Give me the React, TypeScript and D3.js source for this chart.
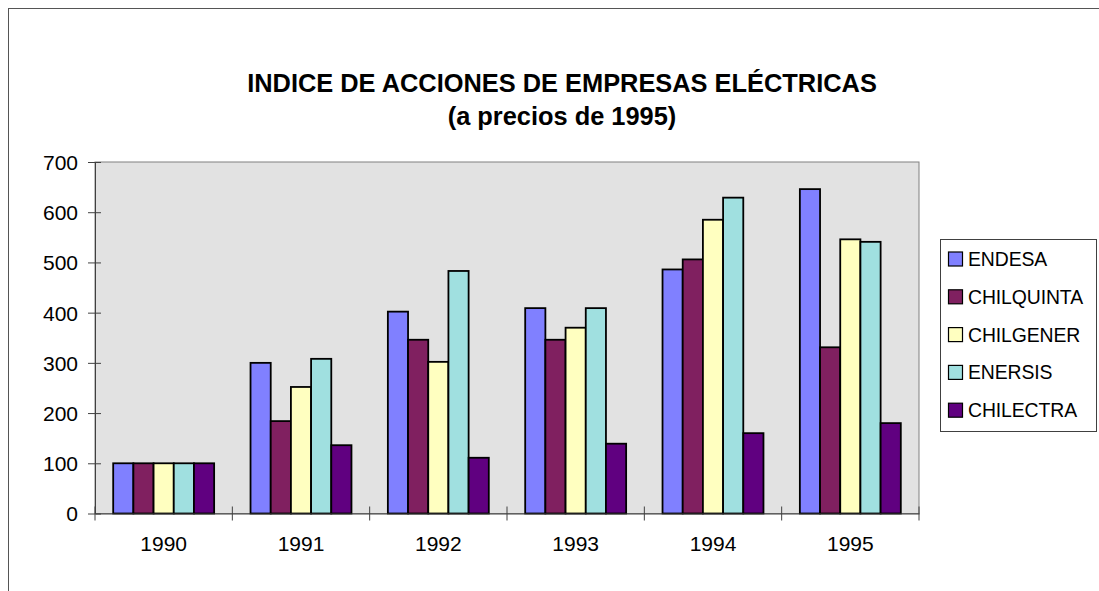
import * as d3 from "d3";
import { useEffect, useRef } from "react";

const years = ["1990", "1991", "1992", "1993", "1994", "1995"];
const series = ["ENDESA", "CHILQUINTA", "CHILGENER", "ENERSIS", "CHILECTRA"];
const endesa = [100, 300, 402, 409, 486, 646];
const chilquinta = [100, 184, 346, 346, 506, 331];
const chilgener = [100, 252, 302, 370, 585, 546];
const enersis = [100, 308, 483, 409, 629, 541];
const chilectra = [100, 136, 111, 139, 160, 180];
const colors = ["#8080ff", "#802060", "#ffffc0", "#a0e0e0", "#600080"];
const yTicks = [0, 100, 200, 300, 400, 500, 600, 700];

const W = 1099;
const H = 591;
const FONT = "'Liberation Sans', Arial, sans-serif";

export default function App() {
    const svgRef = useRef<SVGSVGElement>(null);

    useEffect(() => {
        if (svgRef.current) {
            drawChart();
        }
    }, [svgRef]);

    const drawChart = () => {
        const svg = d3.select(svgRef.current);
        svg.selectAll("*").remove();
        const values = [endesa, chilquinta, chilgener, enersis, chilectra];

        // outer chart border (runs off the right/bottom of the picture)
        svg.append("rect")
            .attr("x", 8.5).attr("y", 8.5)
            .attr("width", W + 50).attr("height", H + 50)
            .attr("fill", "#fff").attr("stroke", "#555").attr("stroke-width", 1);

        const left = 95, right = 919, top = 162, bottom = 513.5;

        const scaleX = d3.scaleBand().domain(years).range([left, right]).padding(0);
        const bw = scaleX.bandwidth();
        const groupW = bw * 0.735;
        const scaleS = d3.scaleBand().domain(series)
            .range([(bw - groupW) / 2, (bw + groupW) / 2]).padding(0);
        const scaleY = d3.scaleLinear().domain([0, 700]).range([bottom, top]);

        // plot area
        svg.append("rect")
            .attr("x", left).attr("y", top)
            .attr("width", right - left).attr("height", bottom - top)
            .attr("fill", "#e2e2e2").attr("stroke", "#808080").attr("stroke-width", 1);

        // bars
        const bars = svg.append("g");
        series.forEach((s, si) => {
            years.forEach((yr, i) => {
                const v = values[si][i];
                bars.append("rect")
                    .attr("x", (scaleX(yr) as number) + (scaleS(s) as number))
                    .attr("y", scaleY(v))
                    .attr("width", scaleS.bandwidth())
                    .attr("height", scaleY(0) - scaleY(v))
                    .attr("fill", colors[si])
                    .attr("stroke", "#000")
                    .attr("stroke-width", 1.8);
            });
        });

        // y axis
        const yAxis = svg.append("g")
            .attr("transform", `translate(${left},0)`)
            .call(d3.axisLeft(scaleY).tickValues(yTicks).tickSize(0).tickPadding(17));
        yAxis.select(".domain").attr("stroke", "#404040");
        yAxis.selectAll(".tick line").remove();
        yAxis.selectAll(".tick").append("line")
            .attr("x1", -7).attr("x2", 6).attr("stroke", "#404040");
        yAxis.selectAll("text")
            .attr("font-family", FONT).attr("font-size", 21).attr("fill", "#000")
            .attr("dy", "0.35em");

        // x axis
        const xAxis = svg.append("g")
            .attr("transform", `translate(0,${bottom})`)
            .call(d3.axisBottom(scaleX).tickSize(0).tickPadding(23));
        xAxis.select(".domain").attr("stroke", "#404040");
        xAxis.selectAll(".tick line").remove();
        xAxis.selectAll("text")
            .attr("font-family", FONT).attr("font-size", 21).attr("fill", "#000");
        const bounds = years.map((y) => scaleX(y) as number).concat([right]);
        xAxis.append("g").selectAll("line").data(bounds).join("line")
            .attr("x1", (d) => d).attr("x2", (d) => d)
            .attr("y1", -7).attr("y2", 7)
            .attr("stroke", "#404040");

        // title
        const title = svg.append("text")
            .attr("x", 562).attr("text-anchor", "middle")
            .attr("font-family", FONT).attr("font-size", 25.4).attr("font-weight", "bold");
        title.append("tspan").attr("x", 562).attr("y", 92)
            .text("INDICE DE ACCIONES DE EMPRESAS ELÉCTRICAS");
        title.append("tspan").attr("x", 562).attr("y", 125)
            .text("(a precios de 1995)");

        // legend
        const lg = svg.append("g");
        lg.append("rect")
            .attr("x", 940.5).attr("y", 239.5).attr("width", 156).attr("height", 192)
            .attr("fill", "#fff").attr("stroke", "#404040").attr("stroke-width", 1);
        series.forEach((s, i) => {
            const cy = 259 + i * 37.8;
            lg.append("rect")
                .attr("x", 948.5).attr("y", cy - 7).attr("width", 14).attr("height", 14)
                .attr("fill", colors[i]).attr("stroke", "#000").attr("stroke-width", 1.2);
            lg.append("text")
                .attr("x", 968).attr("y", cy + 7)
                .attr("font-family", FONT).attr("font-size", 19.4)
                .attr("letter-spacing", -0.1)
                .text(s);
        });
    };

    return (
        <svg
            ref={svgRef}
            width={W}
            height={H}
            style={{ position: "absolute", left: 0, top: 0, background: "#fff" }}
        />
    );
}
